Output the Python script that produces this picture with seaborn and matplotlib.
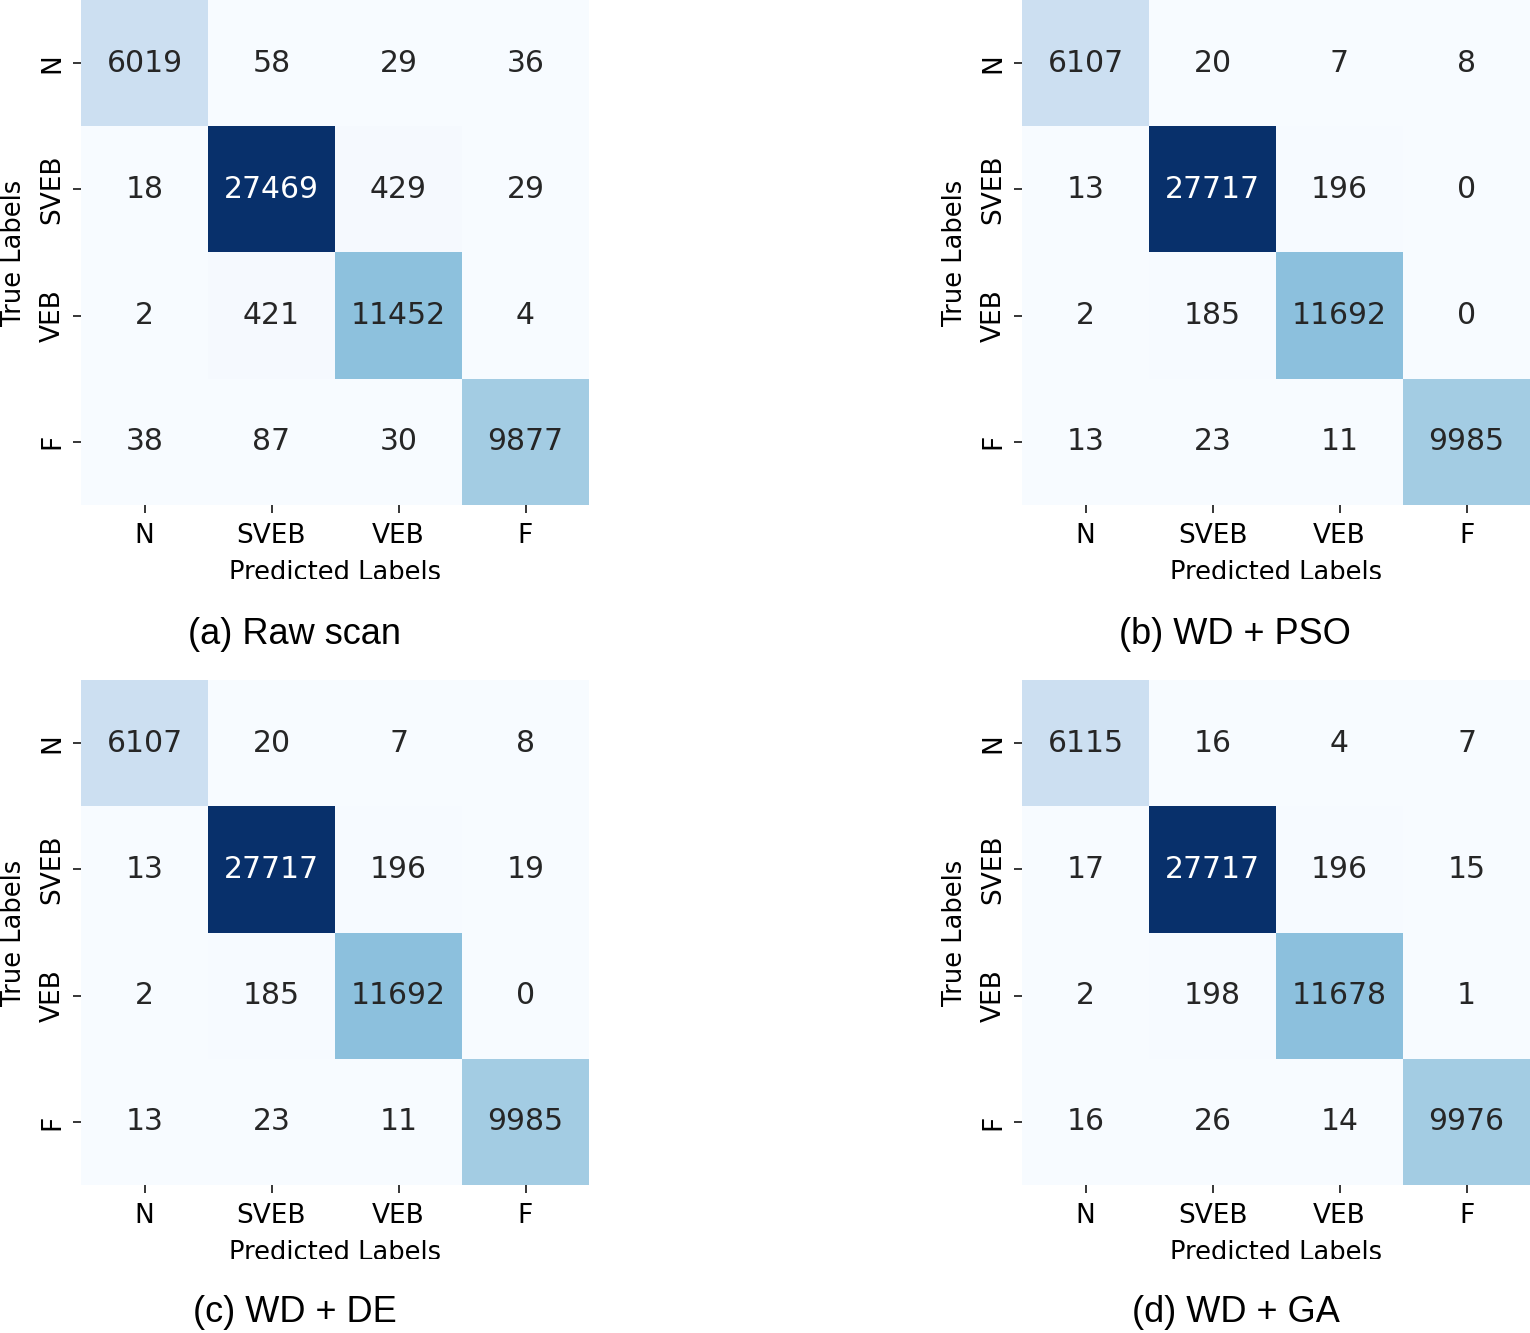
import numpy as np
import matplotlib
matplotlib.use("Agg")
import matplotlib.pyplot as plt
import seaborn as sns
from matplotlib.transforms import Bbox, TransformedBbox

# Class labels
labels = ["N", "SVEB", "VEB", "F"]

# Confusion matrices (rows = true, cols = predicted)
cm_raw = [[6019, 58, 29, 36],
          [18, 27469, 429, 29],
          [2, 421, 11452, 4],
          [38, 87, 30, 9877]]
cm_pso = [[6107, 20, 7, 8],
          [13, 27717, 196, 0],
          [2, 185, 11692, 0],
          [13, 23, 11, 9985]]
cm_de = [[6107, 20, 7, 8],
         [13, 27717, 196, 19],
         [2, 185, 11692, 0],
         [13, 23, 11, 9985]]
cm_ga = [[6115, 16, 4, 7],
         [17, 27717, 196, 15],
         [2, 198, 11678, 1],
         [16, 26, 14, 9976]]

captions = ["(a) Raw scan", "(b) WD + PSO", "(c) WD + DE", "(d) WD + GA"]
matrices = [cm_raw, cm_pso, cm_de, cm_ga]

W, H = 1530, 1333
fig = plt.figure(figsize=(W / 100, H / 100), dpi=100)

# panel layout in pixels: (left, top)
panel_pos = [(81, 0), (1022, 0), (81, 680), (1022, 680)]
panel_w, panel_h = 508, 505
caption_pos = [(294, 634), (1235, 634), (295, 1313), (1236, 1313)]
clip_y = [579, 579, 1259, 1259]

for i in range(4):
    left, top = panel_pos[i]
    ax = fig.add_axes([left / W, 1 - (top + panel_h) / H, panel_w / W, panel_h / H])
    sns.heatmap(np.array(matrices[i]), annot=True, fmt="d", cmap="Blues", cbar=False,
                xticklabels=labels, yticklabels=labels, ax=ax,
                annot_kws={"fontsize": 21.5})
    ax.tick_params(axis="both", labelsize=19, length=6, width=1.1)
    ax.tick_params(axis="x", pad=7)
    ax.tick_params(axis="y", pad=5)
    plt.setp(ax.get_yticklabels(), rotation=90, va="center")
    plt.setp(ax.get_xticklabels(), rotation=0)
    ax.set_xlabel("Predicted Labels", fontsize=18.5, labelpad=8)
    ax.set_ylabel("True Labels", fontsize=18.5, labelpad=9)

    # the original sub-images are cropped through the x label
    xl = ax.xaxis.label
    xl.set_clip_box(TransformedBbox(Bbox([[0, 1 - clip_y[i] / H], [1, 1]]), fig.transFigure))
    xl.set_clip_on(True)

    cx, cy = caption_pos[i]
    fig.text(cx / W, 1 - cy / H, captions[i], ha="center", va="center",
             fontsize=26, family=["Liberation Sans", "DejaVu Sans"])

fig.savefig("out.png", dpi=100)
